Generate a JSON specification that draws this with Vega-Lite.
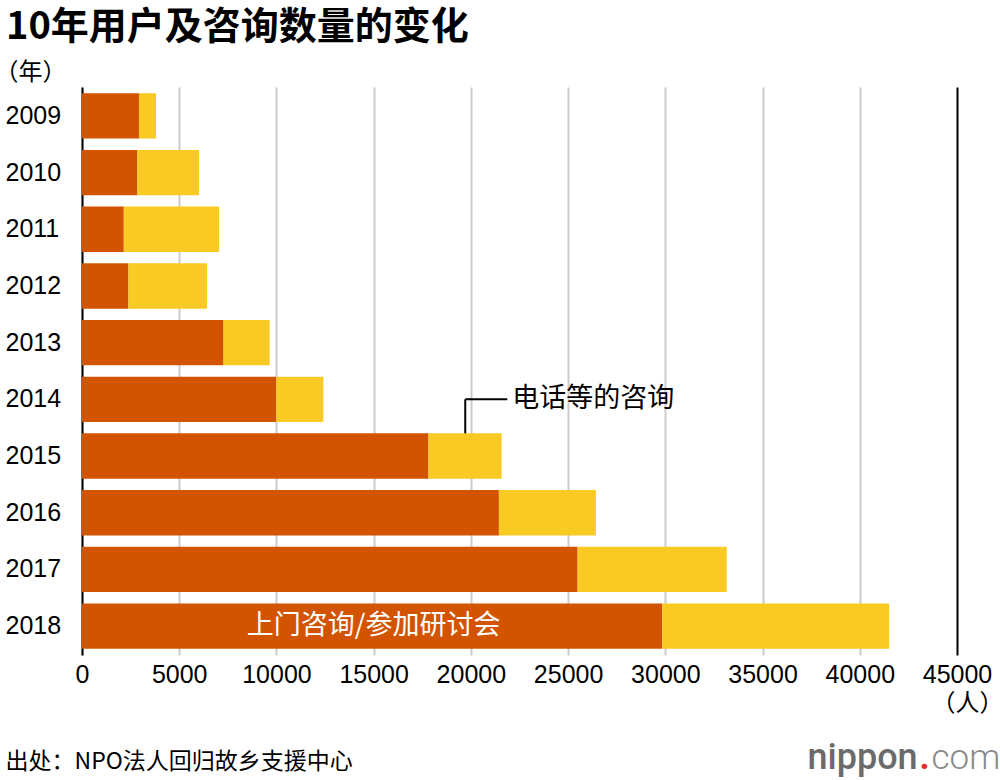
{
  "$schema": "https://vega.github.io/schema/vega-lite/v6.json",
  "width": 875,
  "height": 568,
  "autosize": {"type": "none"},
  "padding": {"left": 82, "top": 87, "right": 43, "bottom": 125},
  "background": "white",
  "title": {
    "text": "10年用户及咨询数量的变化",
    "anchor": "start",
    "frame": "group",
    "dx": -76,
    "dy": 34,
    "offset": 17,
    "baseline": "alphabetic",
    "font": "Noto Sans CJK SC",
    "fontSize": 38,
    "fontWeight": "bold",
    "color": "#000000"
  },
  "data": {
    "values": [
      {"year": "2009", "type": "上门咨询/参加研讨会", "count": 2930},
      {"year": "2009", "type": "电话等的咨询", "count": 880},
      {"year": "2010", "type": "上门咨询/参加研讨会", "count": 2850},
      {"year": "2010", "type": "电话等的咨询", "count": 3170},
      {"year": "2011", "type": "上门咨询/参加研讨会", "count": 2150},
      {"year": "2011", "type": "电话等的咨询", "count": 4900},
      {"year": "2012", "type": "上门咨询/参加研讨会", "count": 2390},
      {"year": "2012", "type": "电话等的咨询", "count": 4040},
      {"year": "2013", "type": "上门咨询/参加研讨会", "count": 7280},
      {"year": "2013", "type": "电话等的咨询", "count": 2370},
      {"year": "2014", "type": "上门咨询/参加研讨会", "count": 9990},
      {"year": "2014", "type": "电话等的咨询", "count": 2420},
      {"year": "2015", "type": "上门咨询/参加研讨会", "count": 17820},
      {"year": "2015", "type": "电话等的咨询", "count": 3760},
      {"year": "2016", "type": "上门咨询/参加研讨会", "count": 21440},
      {"year": "2016", "type": "电话等的咨询", "count": 4990},
      {"year": "2017", "type": "上门咨询/参加研讨会", "count": 25490},
      {"year": "2017", "type": "电话等的咨询", "count": 7670},
      {"year": "2018", "type": "上门咨询/参加研讨会", "count": 29840},
      {"year": "2018", "type": "电话等的咨询", "count": 11670}
    ]
  },
  "layer": [
    {
      "data": {"values": [{}]},
      "mark": {"type": "rule", "color": "#000000", "strokeWidth": 2},
      "encoding": {
        "x": {"datum": 19710, "type": "quantitative", "axis": null},
        "y": {"datum": "2014", "type": "ordinal", "axis": null},
        "y2": {"datum": "2015"}
      }
    },
    {
      "data": {"values": [{}]},
      "mark": {"type": "rule", "color": "#000000", "strokeWidth": 2},
      "encoding": {
        "x": {"datum": 19710, "type": "quantitative", "axis": null},
        "x2": {"datum": 21870},
        "y": {
          "datum": "2014",
          "type": "ordinal",
          "axis": {
            "orient": "right",
            "title": "com",
            "labels": false,
            "ticks": false,
            "domain": false,
            "grid": false,
            "titleAngle": 0,
            "titleX": -26,
            "titleY": 681,
            "titleAlign": "left",
            "titleBaseline": "alphabetic",
            "titleFont": "Roboto",
            "titleFontSize": 35,
            "titleFontWeight": 300,
            "titleColor": "#8a8a8a"
          }
        }
      }
    },
    {
      "mark": {"type": "bar"},
      "encoding": {
        "y": {
          "field": "year",
          "type": "ordinal",
          "sort": "ascending",
          "scale": {"paddingInner": 0.2, "paddingOuter": 0.11},
          "axis": {
            "orient": "left",
            "title": "（年）",
            "titleAngle": 0,
            "titleX": -88,
            "titleY": -15,
            "titleAlign": "left",
            "titleBaseline": "middle",
            "titleFont": "Noto Sans CJK SC",
            "titleFontSize": 24,
            "titleFontWeight": "normal",
            "titleColor": "#000000",
            "ticks": false,
            "labelPadding": 77,
            "labelAlign": "left",
            "labelFont": "Liberation Sans",
            "labelFontSize": 25,
            "labelColor": "#000000",
            "domainColor": "#000000",
            "domainWidth": 2
          }
        },
        "x": {
          "field": "count",
          "type": "quantitative",
          "stack": "zero",
          "scale": {"domain": [0, 45000], "nice": false},
          "axis": {
            "orient": "bottom",
            "values": [0, 5000, 10000, 15000, 20000, 25000, 30000, 35000, 40000, 45000],
            "format": "d",
            "title": "（人）",
            "titleX": 885,
            "titleY": 48,
            "titleAlign": "center",
            "titleBaseline": "middle",
            "titleFont": "Noto Sans CJK SC",
            "titleFontSize": 24,
            "titleFontWeight": "normal",
            "titleColor": "#000000",
            "domain": false,
            "ticks": false,
            "labelPadding": 7,
            "labelFont": "Liberation Sans",
            "labelFontSize": 25,
            "labelColor": "#000000",
            "labelFlush": false,
            "grid": true,
            "gridWidth": 2,
            "gridColor": {"condition": {"test": "datum.value === 45000", "value": "#000000"}, "value": "#cccccc"}
          }
        },
        "color": {
          "field": "type",
          "type": "nominal",
          "scale": {"domain": ["上门咨询/参加研讨会", "电话等的咨询"], "range": ["#D35400", "#F9CA24"]},
          "legend": null
        }
      }
    },
    {
      "data": {"values": [{}]},
      "mark": {"type": "text", "align": "left", "baseline": "middle", "font": "Noto Sans CJK SC", "fontSize": 27, "color": "#000000"},
      "encoding": {
        "x": {"datum": 22130, "type": "quantitative", "axis": null},
        "y": {
          "datum": "2014",
          "type": "ordinal",
          "axis": {
            "orient": "right",
            "title": ".",
            "labels": false,
            "ticks": false,
            "domain": false,
            "grid": false,
            "titleAngle": 0,
            "titleX": -38,
            "titleY": 681,
            "titleAlign": "left",
            "titleBaseline": "alphabetic",
            "titleFont": "Roboto",
            "titleFontSize": 35,
            "titleFontWeight": "bold",
            "titleColor": "#e8292f"
          }
        },
        "text": {"value": "电话等的咨询"}
      }
    },
    {
      "data": {"values": [{}]},
      "mark": {"type": "text", "align": "center", "baseline": "middle", "font": "Noto Sans CJK SC", "fontSize": 27, "color": "#ffffff"},
      "encoding": {
        "x": {
          "datum": 15000,
          "type": "quantitative",
          "axis": {
            "orient": "bottom",
            "title": "出处：NPO法人回归故乡支援中心",
            "labels": false,
            "ticks": false,
            "domain": false,
            "grid": false,
            "titleX": -77,
            "titleY": 106,
            "titleAlign": "left",
            "titleBaseline": "middle",
            "titleFont": "Noto Sans CJK SC",
            "titleFontSize": 23,
            "titleFontWeight": "normal",
            "titleColor": "#000000"
          }
        },
        "y": {
          "datum": "2018",
          "type": "ordinal",
          "axis": {
            "orient": "right",
            "title": "nippon",
            "labels": false,
            "ticks": false,
            "domain": false,
            "grid": false,
            "titleAngle": 0,
            "titleX": -150,
            "titleY": 681,
            "titleAlign": "left",
            "titleBaseline": "alphabetic",
            "titleFont": "Roboto",
            "titleFontSize": 36,
            "titleFontWeight": 500,
            "titleColor": "#6b6b6b"
          }
        },
        "text": {"value": "上门咨询/参加研讨会"}
      }
    }
  ],
  "resolve": {"axis": {"x": "independent", "y": "independent"}},
  "config": {"view": {"stroke": null}}
}
